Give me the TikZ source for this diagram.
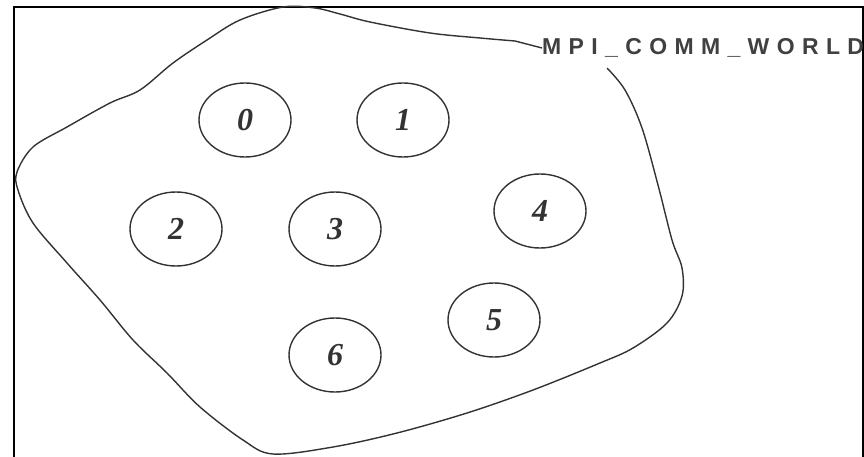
\documentclass[tikz,border=0pt]{standalone}
\usepackage{fontspec}
\usepackage{tikz}
\usetikzlibrary{shapes.geometric}
\newfontfamily\digitfont{Liberation Serif}
\newfontfamily\commfont[LetterSpace=32]{Liberation Sans}
\tikzset{
  proc/.style={ellipse,draw=black!80,line width=1.4pt,minimum width=92pt,minimum height=74pt,inner sep=0pt,
    font=\digitfont\bfseries\itshape\fontsize{32}{32}\selectfont,text=black!80},
  blob/.style={draw=black!80,line width=1.4pt},
}

\begin{document}
\begin{tikzpicture}[x=1pt,y=-1pt]
    \useasboundingbox (0,0) rectangle (864,457);
    % frame
    \draw[line width=2pt] (13.5,457) -- (13.5,7) -- (863,7) -- (863,457);

    % processes
    \foreach \n/\x/\y in {0/245/120,1/403/120,2/176/229,3/335/229,4/540/211,5/494/320,6/335/355} {
      \node[proc] (p\n) at (\x,\y) {\n};
    }

    % communicator label, clipped by the frame
    \begin{scope}
      \clip (0,0) rectangle (862,457);
      \node[anchor=west,inner sep=0pt,font=\commfont\bfseries\fontsize{23}{23}\selectfont,text=black!75] (world) at (542,48) {MPI\_COMM\_WORLD};
    \end{scope}

    % outline of the group
    \draw[blob] plot[smooth,tension=0.55] coordinates {
      (607,68) (625,90) (642,128) (658,185) (672,240) (682,268) (682,296) (667,323)
      (633,348) (600,363) (533,390) (467,413) (397,433) (333,447) (273,454)
      (243,440) (200,407) (167,373) (133,340) (100,300) (67,263) (33,223)
      (18,190) (17,172) (33,147) (67,127) (110,103) (140,90) (173,63) (207,40)
      (240,20) (283,7) (315,8) (340,14) (370,22) (430,33) (480,38) (515,41)
    } -- (world.west);
  \end{tikzpicture}
\end{document}
